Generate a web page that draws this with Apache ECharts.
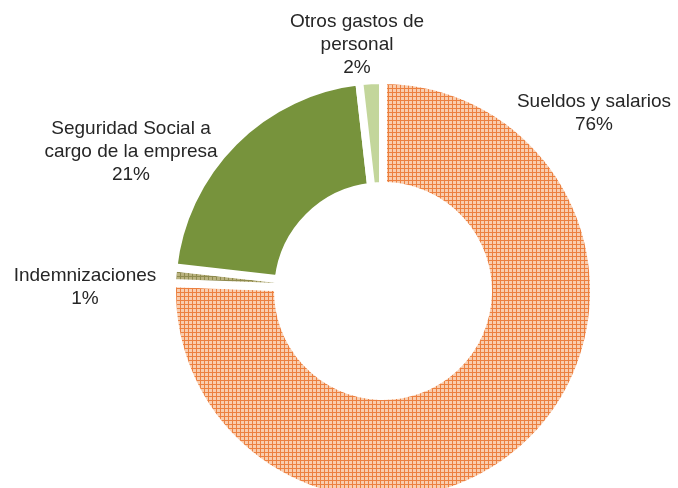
<!DOCTYPE html>
<html>
<head>
<meta charset="utf-8">
<script src="https://cdn.jsdelivr.net/npm/echarts@6/dist/echarts.min.js"></script>
<style>
html,body{margin:0;padding:0;background:#fff;}
#chart{width:678px;height:488px;}
</style>
</head>
<body>
<div id="chart"></div>
<script>
// Data
var categories = ['Sueldos y salarios', 'Indemnizaciones', 'Seguridad Social a\ncargo de la empresa', 'Otros gastos de\npersonal'];
var values = [75.6, 1.2, 21.4, 1.8];

// Label anchor positions (layout, not data)
var labelPos = [[594, 113], [85, 287], [131, 152], [357, 45]];

function makePattern(bg, line) {
  var c = document.createElement('canvas');
  c.width = 4; c.height = 4;
  var ctx = c.getContext('2d');
  ctx.fillStyle = bg;
  ctx.fillRect(0, 0, 4, 4);
  ctx.fillStyle = line;
  ctx.fillRect(0, 0, 4, 1);
  ctx.fillRect(0, 0, 1, 4);
  return {image: c, repeat: 'repeat'};
}

var colors = [
  makePattern('#F9CDAE', '#EC8040'),
  makePattern('#B9B27E', '#8E8A4E'),
  '#77933C',
  '#C3D69B'
];

var chart = echarts.init(document.getElementById('chart'), null, {renderer: 'canvas'});
chart.setOption({
  animation: false,
  backgroundColor: '#ffffff',
  series: [{
    type: 'pie',
    center: [383, 291],
    radius: [105, 211],
    startAngle: 90,
    clockwise: true,
    avoidLabelOverlap: false,
    emphasis: {disabled: true},
    itemStyle: {borderColor: '#ffffff', borderWidth: 8},
    label: {
      show: true,
      position: 'outside',
      fontFamily: 'Liberation Sans, Arial, sans-serif',
      fontSize: 19,
      lineHeight: 23,
      color: '#262626',
      align: 'center',
      formatter: function (p) { return p.name + '\n' + Math.round(p.percent) + '%'; }
    },
    labelLine: {show: false},
    labelLayout: function (params) {
      var pos = labelPos[params.dataIndex];
      return {x: pos[0], y: pos[1], align: 'center', verticalAlign: 'middle', hideOverlap: false};
    },
    data: categories.map(function (n, i) {
      return {name: n, value: values[i], itemStyle: {color: colors[i]}};
    })
  }]
});
</script>
</body>
</html>
